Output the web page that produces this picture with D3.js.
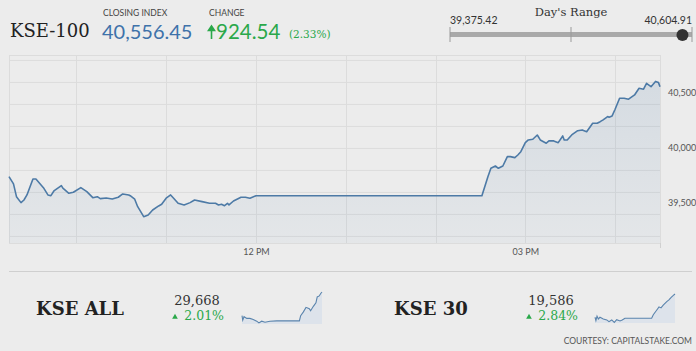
<!DOCTYPE html>
<html>
<head>
<meta charset="utf-8">
<script src="https://cdn.jsdelivr.net/npm/d3@7"></script>
<style>
  body { margin: 0; background: #ececec; }
  svg { display: block; }
</style>
</head>
<body>
<div id="chart"></div>
<script>
// headline numbers
var closingIndex = 40556.45, changePts = 924.54, changePct = 2.33;
var dayLow = 39375.42, dayHigh = 40604.91;

// KSE-100 intraday
var kseTimes = ["09:15","09:18","09:20","09:23","09:25","09:27","09:31","09:33","09:38","09:41","09:43","09:45","09:50","09:51","09:55","09:58",
  "10:03","10:07","10:11","10:14","10:16","10:20","10:24","10:28","10:31","10:35","10:36","10:39","10:41","10:45","10:48","10:51","10:55","10:57",
  "11:00","11:03","11:05","11:08","11:12","11:16","11:19","11:24","11:29","11:33","11:35","11:37","11:39","11:41","11:42","11:45","11:50","11:53","11:56",
  "12:00","14:31","14:35","14:37","14:40","14:42","14:45","14:48","14:50","14:53","14:55","14:57",
  "15:00","15:02","15:05","15:08","15:10","15:14","15:16","15:19","15:22","15:25","15:26","15:28","15:31","15:35","15:38","15:41","15:45","15:48","15:50","15:52","15:55","15:56","15:58",
  "16:00","16:03","16:06","16:09","16:13","16:16","16:19","16:21","16:24","16:27","16:29","16:30"];
var kseValues = [39739,39673,39557,39503,39527,39573,39718,39718,39639,39573,39566,39609,39657,39634,39588,39597,
  39639,39603,39548,39557,39539,39545,39536,39552,39582,39573,39566,39534,39466,39375,39391,39436,39473,39488,
  39543,39573,39543,39497,39482,39503,39527,39512,39497,39497,39482,39488,39475,39497,39482,39518,39552,39552,39543,
  39566,39566,39739,39815,39836,39815,39836,39921,39921,39912,39936,39966,
  40048,40073,40079,40118,40073,40043,40066,40064,40048,40109,40073,40073,40118,40157,40164,40148,40225,40225,40239,40255,40285,40279,40291,
  40352,40452,40452,40443,40482,40543,40534,40588,40557,40605,40594,40556];

var yLabels = [39500, 40000, 40500];
var xLabels = ["12:00", "15:00"];

// sub indices
var subNames = ["KSE ALL", "KSE 30"];
var subLast = [29668, 19586];
var subPct = [2.01, 2.84];

var kseAllTimes = ["09:15","09:19","09:26","09:41","09:58","10:16","10:35","10:47","11:02","11:20","11:47","12:24","14:27","14:34","14:48","15:03","15:21","15:28","15:43","15:57","16:04","16:15","16:23","16:30"];
var kseAllValues = [29189,29098,29168,29134,29134,29113,29077,29042,29077,29056,29077,29084,29084,29189,29260,29357,29329,29287,29378,29449,29567,29588,29638,29668];

var kse30Times = ["09:15","09:20","09:26","09:33","09:42","10:00","10:19","10:31","10:46","11:00","11:13","11:31","11:43","11:58","14:23","14:32","14:50","15:03","15:14","15:26","15:45","15:57","16:08","16:21","16:30"];
var kse30Values = [19140,19075,19160,19108,19140,19108,19089,19055,19089,19041,19094,19069,19089,19120,19120,19188,19274,19339,19319,19373,19439,19473,19518,19558,19586];

var parseT = d3.timeParse("%H:%M");
var green = "#2aa84a", blue = "#3e72aa", lineCol = "#4d7aa6";

var svg = d3.select("#chart").append("svg")
  .attr("width", 696).attr("height", 351)
  .style("font-family", "Lato, sans-serif");

svg.append("rect").attr("width", 696).attr("height", 351).attr("fill", "#ececec");

// ---------- header ----------
svg.append("text").attr("x", 10).attr("y", 37)
  .style("font-family", "'DejaVu Serif', serif").style("font-size", "18px").attr("fill", "#222")
  .text("KSE-100");
svg.append("text").attr("x", 103).attr("y", 16).style("font-size", "8.5px").attr("fill", "#444").text("CLOSING INDEX");
svg.append("text").attr("x", 102).attr("y", 39).style("font-size", "20px").attr("fill", blue)
  .text(d3.format(",.2f")(closingIndex));
svg.append("text").attr("x", 209).attr("y", 16).style("font-size", "8.5px").attr("fill", "#444").text("CHANGE");
// up arrow
svg.append("path").attr("d", "M211.5,39V27M208.5,30.5L211.5,26L214.5,30.5Z")
  .attr("stroke", green).attr("stroke-width", 1.6).attr("fill", green);
svg.append("text").attr("x", 216).attr("y", 39).style("font-size", "20.5px").attr("fill", green)
  .text(d3.format(",.2f")(changePts));
svg.append("text").attr("x", 289).attr("y", 38)
  .style("font-family", "'DejaVu Serif', serif").style("font-size", "10.5px").attr("fill", green)
  .text("(" + changePct.toFixed(2) + "%)");

// day's range
var r = d3.scaleLinear().domain([dayLow, dayHigh]).range([450, 692]);
svg.append("text").attr("x", 571).attr("y", 16).attr("text-anchor", "middle")
  .style("font-family", "'DejaVu Serif', serif").style("font-size", "11.5px").attr("fill", "#333")
  .text("Day's Range");
svg.append("text").attr("x", r(dayLow)).attr("y", 24).style("font-size", "10.5px").attr("fill", "#333")
  .text(d3.format(",.2f")(dayLow));
svg.append("text").attr("x", r(dayHigh)).attr("y", 24).attr("text-anchor", "end").style("font-size", "10.5px").attr("fill", "#333")
  .text(d3.format(",.2f")(dayHigh));
svg.append("rect").attr("x", r(dayLow)).attr("y", 32).attr("width", r(dayHigh) - r(dayLow)).attr("height", 5).attr("fill", "#a9a9a9");
svg.selectAll(".rtick").data([dayLow, (dayLow + dayHigh) / 2, dayHigh]).enter().append("line")
  .attr("x1", function (d) { return r(d); }).attr("x2", function (d) { return r(d); })
  .attr("y1", 27).attr("y2", 42).attr("stroke", "#9a9a9a").attr("stroke-width", 1);
svg.append("circle").attr("cx", r(closingIndex)).attr("cy", 35).attr("r", 6).attr("fill", "#333");

// ---------- main chart ----------
var x = d3.scaleTime().domain([parseT("09:15"), parseT("16:30")]).range([9, 660]);
var y = d3.scaleLinear().domain([39136, 40845]).range([243, 55]);

var g = svg.append("g");
// gridlines
g.selectAll(".hg").data(d3.range(39200, 40801, 200)).enter().append("line")
  .attr("x1", 9).attr("x2", 660)
  .attr("y1", function (d) { return y(d) + 0.5; }).attr("y2", function (d) { return y(d) + 0.5; })
  .attr("stroke", "#dcdcdc");
g.selectAll(".vg").data(d3.timeHour.range(parseT("10:00"), parseT("16:31"))).enter().append("line")
  .attr("x1", function (d) { return Math.round(x(d)) + 0.5; }).attr("x2", function (d) { return Math.round(x(d)) + 0.5; })
  .attr("y1", 55).attr("y2", 243).attr("stroke", "#dcdcdc");
g.append("rect").attr("x", 9.5).attr("y", 55.5).attr("width", 651).attr("height", 188)
  .attr("fill", "none").attr("stroke", "#dcdcdc");
g.append("line").attr("x1", 660.5).attr("x2", 660.5).attr("y1", 243).attr("y2", 248).attr("stroke", "#d0d0d0");

var kse = kseTimes.map(function (t, i) { return { t: parseT(t), v: kseValues[i] }; });

var grad = svg.append("defs").append("linearGradient").attr("id", "fillGrad")
  .attr("gradientUnits", "userSpaceOnUse").attr("x1", 0).attr("x2", 0).attr("y1", 55).attr("y2", 243);
grad.append("stop").attr("offset", "0%").attr("stop-color", lineCol).attr("stop-opacity", 0.16);
grad.append("stop").attr("offset", "100%").attr("stop-color", lineCol).attr("stop-opacity", 0.05);

g.append("path").datum(kse)
  .attr("d", d3.area().x(function (d) { return x(d.t); }).y0(243).y1(function (d) { return y(d.v); }))
  .attr("fill", "url(#fillGrad)");
g.append("path").datum(kse)
  .attr("d", d3.line().x(function (d) { return x(d.t); }).y(function (d) { return y(d.v); }))
  .attr("fill", "none").attr("stroke", lineCol).attr("stroke-width", 1.6).attr("stroke-linejoin", "round");

// axes
var yAxis = svg.append("g").attr("transform", "translate(662,0)")
  .call(d3.axisRight(y).tickValues(yLabels).tickSize(0).tickPadding(6).tickFormat(d3.format(",")));
yAxis.select(".domain").remove();
yAxis.selectAll("text").style("font-family", "Lato, sans-serif").style("font-size", "9px").attr("fill", "#555");

var xAxis = svg.append("g").attr("transform", "translate(0,243)")
  .call(d3.axisBottom(x).tickValues(xLabels.map(parseT)).tickSize(0).tickPadding(6).tickFormat(d3.timeFormat("%I %p")));
xAxis.select(".domain").remove();
xAxis.selectAll("text").style("font-family", "Lato, sans-serif").style("font-size", "9px").attr("fill", "#555");

// ---------- bottom strip ----------
svg.append("line").attr("x1", 9).attr("x2", 692).attr("y1", 271.5).attr("y2", 271.5).attr("stroke", "#cfcfcf");

var subs = [
  { times: kseAllTimes, values: kseAllValues, nameX: 36, numX: 197, sx: [242, 322], dom: [29020, 29668], sy: [324, 292] },
  { times: kse30Times, values: kse30Values, nameX: 394, numX: 551, sx: [595, 675], dom: [19030, 19586], sy: [323, 294] }
];

subs.forEach(function (s, i) {
  svg.append("text").attr("x", s.nameX).attr("y", 315)
    .style("font-family", "'DejaVu Serif', serif").style("font-size", "18px").style("font-weight", "bold").attr("fill", "#222")
    .text(subNames[i]);
  svg.append("text").attr("x", s.numX).attr("y", 305).attr("text-anchor", "middle")
    .style("font-family", "'DejaVu Serif', serif").style("font-size", "13px").attr("fill", "#333")
    .text(d3.format(",")(subLast[i]));
  svg.append("path").attr("transform", "translate(" + (s.numX - 22) + ",317)")
    .attr("d", d3.symbol().type(d3.symbolTriangle).size(14)).attr("fill", green);
  svg.append("text").attr("x", s.numX + 27).attr("y", 320).attr("text-anchor", "end")
    .style("font-family", "'DejaVu Serif', serif").style("font-size", "12.5px").attr("fill", green)
    .text(subPct[i].toFixed(2) + "%");

  var sxS = d3.scaleTime().domain([parseT("09:15"), parseT("16:30")]).range(s.sx);
  var syS = d3.scaleLinear().domain(s.dom).range(s.sy);
  var pts = s.times.map(function (t, j) { return { t: parseT(t), v: s.values[j] }; });
  svg.append("path").datum(pts)
    .attr("d", d3.area().x(function (d) { return sxS(d.t); }).y0(s.sy[0]).y1(function (d) { return syS(d.v); }))
    .attr("fill", "#dde3eb");
  svg.append("path").datum(pts)
    .attr("d", d3.line().x(function (d) { return sxS(d.t); }).y(function (d) { return syS(d.v); }))
    .attr("fill", "none").attr("stroke", "#5a84ad").attr("stroke-width", 1.1);
});

svg.append("text").attr("x", 692).attr("y", 344).attr("text-anchor", "end")
  .style("font-size", "8.5px").attr("fill", "#555").text("COURTESY: CAPITALSTAKE.COM");
</script>
</body>
</html>
